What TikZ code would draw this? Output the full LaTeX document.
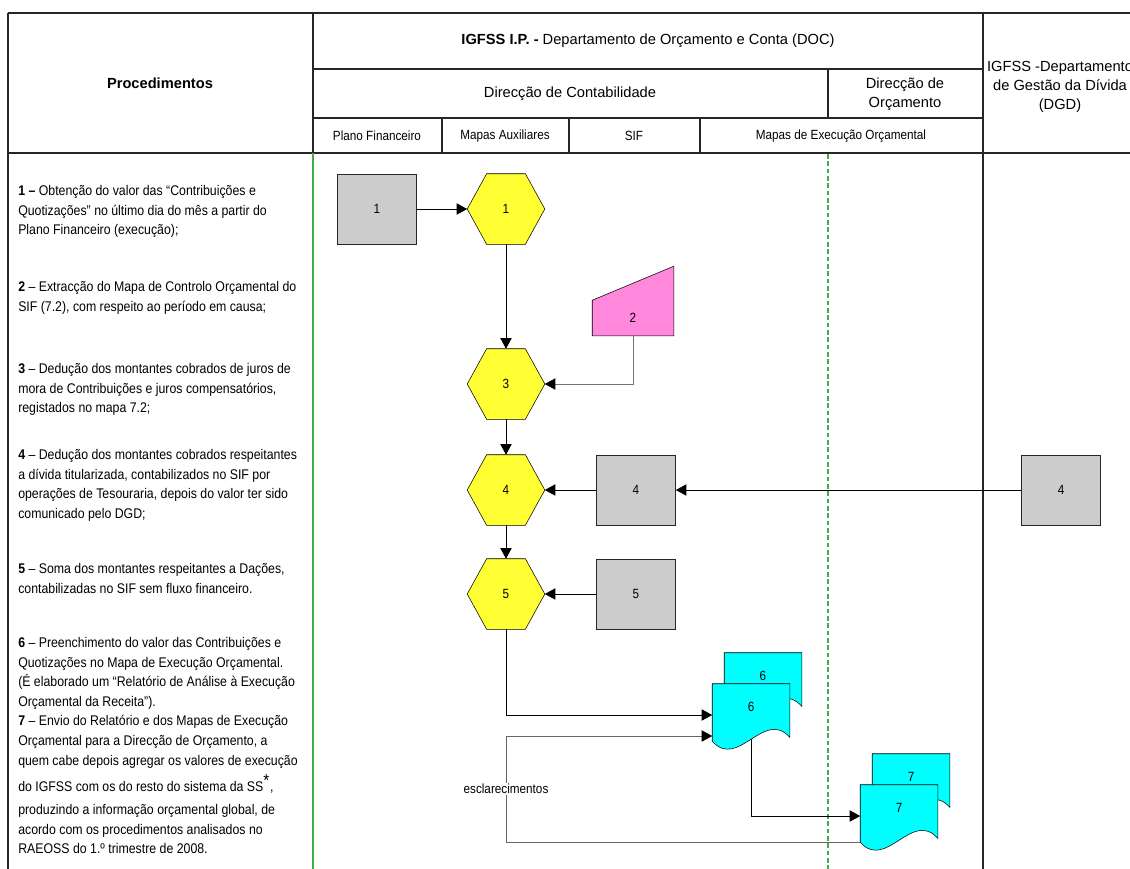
\documentclass[tikz,border=0pt]{standalone}
\usepackage{fontspec}
\setmainfont{Liberation Sans}
\newfontfamily\narrowfont{Liberation Sans}[FakeStretch=0.88]
\usepackage{tikz}
\usetikzlibrary{calc,arrows.meta,backgrounds}

\definecolor{boxgray}{RGB}{204,204,204}
\definecolor{hexyellow}{RGB}{255,255,51}
\definecolor{manpink}{RGB}{255,136,221}
\definecolor{doccyan}{RGB}{0,255,255}
\definecolor{lanegreen}{RGB}{70,170,70}

% outlines drawn round a node
\newcommand{\hexa}[1]{\filldraw[fill=hexyellow] (#1.west) -- ($(#1.north west)!.25!(#1.north east)$) -- ($(#1.north west)!.75!(#1.north east)$) -- (#1.east) -- ($(#1.south west)!.75!(#1.south east)$) -- ($(#1.south west)!.25!(#1.south east)$) -- cycle;}
\newcommand{\manin}[1]{\filldraw[fill=manpink] (#1.south west) -- (#1.north west) -- ($(#1.north east)+(0,-34)$) -- (#1.south east) -- cycle;}
\newcommand{\docshape}[1]{\filldraw[fill=doccyan] (#1.north west) -- (#1.north east) -- ($(#1.south east)+(0,7)$) .. controls +(-26,-29) and +(26,29) .. ($(#1.south west)+(0,11)$) -- cycle;}

\begin{document}
\begin{tikzpicture}[x=0.75pt, y=-0.75pt,
    tabline/.style={draw=black!85, line width=0.9pt},
    flow/.style={line width=0.7pt, -{Triangle[length=8pt,width=8.5pt,color=black]}},
    head/.style={align=center, font=\fontsize{11}{14.5}\selectfont},
    sub/.style={font=\narrowfont\fontsize{10}{12}\selectfont},
    lbl/.style={font=\narrowfont\fontsize{10}{12}\selectfont},
    desc/.style={anchor=north west, inner sep=0pt, align=left, font=\narrowfont\fontsize{10.5}{14.8}\selectfont},
    gbox/.style={lbl, draw=black!85, fill=boxgray, minimum width=59.25pt, minimum height=52.5pt, inner sep=0pt},
    hexnode/.style={lbl, minimum width=57.75pt, minimum height=52.5pt, inner sep=0pt},
    mannode/.style={lbl, minimum width=60.75pt, minimum height=26.25pt, inner sep=0pt},
    docnode/.style={lbl, minimum width=57.75pt, minimum height=34.5pt, inner sep=0pt}]
  \useasboundingbox (0,0) rectangle (1130,868);
  \clip (0,0) rectangle (1130,868);

  % table
  \draw[tabline] (8,13) -- (1134,13) (8,153) -- (1134,153) (8,13) -- (8,870) (983,13) -- (983,870)
    (313,13) -- (313,153) (313,69) -- (983,69) (313,118) -- (983,118) (828,69) -- (828,118)
    (442,118) -- (442,153) (569,118) -- (569,153) (700,118) -- (700,153);
  \draw[lanegreen, line width=0.9pt] (313,153) -- (313,870);
  \draw[lanegreen, line width=0.9pt, dash pattern=on 3.5pt off 2pt] (828,154) -- (828,870);

  \node[head, font=\bfseries\fontsize{11}{14.5}\selectfont] (proc) at (160,83) {Procedimentos};
  \node[head] (doc) at (648,41) {\textbf{IGFSS I.P. -} Departamento de Orçamento e Conta (DOC)};
  \node[head] (dcont) at (570,94) {Direcção de Contabilidade};
  \node[head] (dorc) at (905,94) {Direcção de\\Orçamento};
  \node[head] (dgd) at (1060,87) {IGFSS -Departamento\\de Gestão da Dívida\\(DGD)};
  \node[sub] (pf) at (377,136) {Plano Financeiro};
  \node[sub] (maux) at (505,136) {Mapas Auxiliares};
  \node[sub] (sif) at (634,136) {SIF};
  \node[sub] (mexec) at (841,136) {Mapas de Execução Orçamental};

  % procedimentos
  \node[desc] (st1) at (18,185) {\textbf{1 –} Obtenção do valor das “Contribuições e\\Quotizações” no último dia do mês a partir do\\Plano Financeiro (execução);};
  \node[desc] (st2) at (18,281) {\textbf{2} – Extracção do Mapa de Controlo Orçamental do\\SIF (7.2), com respeito ao período em causa;};
  \node[desc] (st3) at (18,363) {\textbf{3} – Dedução dos montantes cobrados de juros de\\mora de Contribuições e juros compensatórios,\\registados no mapa 7.2;};
  \node[desc] (st4) at (18,449) {\textbf{4} – Dedução dos montantes cobrados respeitantes\\a dívida titularizada, contabilizados no SIF por\\operações de Tesouraria, depois do valor ter sido\\comunicado pelo DGD;};
  \node[desc] (st5) at (18,563) {\textbf{5} – Soma dos montantes respeitantes a Dações,\\contabilizadas no SIF sem fluxo financeiro.};
  \node[desc] (st6) at (18,637) {\textbf{6} – Preenchimento do valor das Contribuições e\\Quotizações no Mapa de Execução Orçamental.\\(É elaborado um “Relatório de Análise à Execução\\Orçamental da Receita”).};
  \node[desc] (st7) at (18,715) {\textbf{7} – Envio do Relatório e dos Mapas de Execução\\Orçamental para a Direcção de Orçamento, a\\quem cabe depois agregar os valores de execução\\[4pt]do IGFSS com os do resto do sistema da SS\textsuperscript{\fontsize{13}{13}\selectfont *},\\[2pt]produzindo a informação orçamental global, de\\acordo com os procedimentos analisados no\\RAEOSS do 1.º trimestre de 2008.};

  % flow
  \node[gbox] (box1) at (377,209) {1};
  \node[hexnode] (hex1) at (506,209) {1};
  \node[mannode] (man2) at (633,318) {2};
  \node[hexnode] (hex3) at (506,384) {3};
  \node[hexnode] (hex4) at (506,490) {4};
  \node[gbox] (box4) at (636,490) {4};
  \node[gbox] (dgd4) at (1061,490) {4};
  \node[hexnode] (hex5) at (506,594) {5};
  \node[gbox] (box5) at (636,594) {5};
  \node[docnode] (doc6b) at (763,676) {6};
  \node[docnode] (doc6) at (751,707) {6};
  \node[docnode] (doc7b) at (911,777) {7};
  \node[docnode] (doc7) at (899,808) {7};
  \begin{scope}[on background layer]
    \hexa{hex1} \hexa{hex3} \hexa{hex4} \hexa{hex5}
    \manin{man2}
    \docshape{doc6b} \docshape{doc6} \docshape{doc7b} \docshape{doc7}
  \end{scope}

  \draw[flow] (box1) -- (hex1);
  \draw[flow] (hex1) -- (hex3);
  \draw[flow, draw=black!55] (man2.south) |- (hex3.east);
  \draw[flow] (hex3) -- (hex4);
  \draw[flow] (box4) -- (hex4);
  \draw[flow] (dgd4) -- (box4);
  \draw[flow] (hex4) -- (hex5);
  \draw[flow] (box5) -- (hex5);
  \draw[flow] (hex5.south) |- ($(doc6.west)+(0,8)$);
  \coordinate (esc) at ($(doc6.west)+(0,29)$);
  \draw[flow, draw=black!60] ($(doc7.south west)+(0,11)$) -| node[pos=0.75, lbl, fill=white, inner sep=1pt] (escl) {esclarecimentos} (hex5.south |- esc) -- (esc);
  \draw[flow] ($(doc6.south)+(0,9)$) |- ($(doc7.west)+(0,8)$);
\end{tikzpicture}
\end{document}
